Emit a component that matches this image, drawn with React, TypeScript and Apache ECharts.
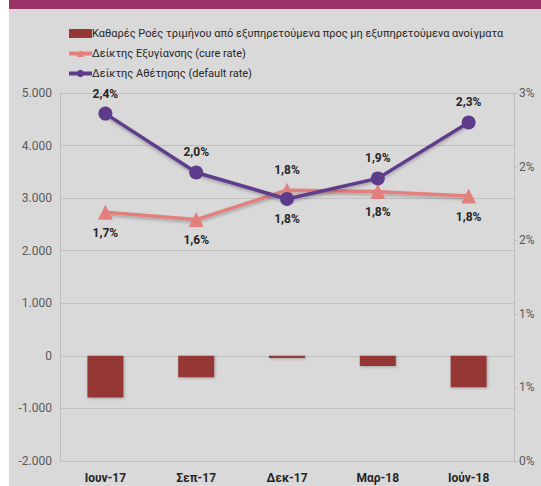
import React, { useEffect, useRef } from "react";
import * as echarts from "echarts";

const categories = ["Ιουν-17", "Σεπ-17", "Δεκ-17", "Μαρ-18", "Ιούν-18"];
const netFlows = [-790, -405, -40, -195, -595];
const cureRate = [1.69, 1.64, 1.84, 1.83, 1.8];
const defaultRate = [2.36, 1.96, 1.78, 1.92, 2.3];
const cureLabelPos = ["bottom", "bottom", "top", "bottom", "bottom"];
const defaultLabelPos = ["top", "top", "bottom", "top", "top"];

const seriesNames = [
  "Καθαρές Ροές τριμήνου από εξυπηρετούμενα προς μη εξυπηρετούμενα ανοίγματα",
  "Δείκτης Εξυγίανσης (cure rate)",
  "Δείκτης Αθέτησης (default rate)",
];

const FONT = "Roboto, 'Noto Sans', sans-serif";

function fmtThousands(v: number): string {
  const s = Math.abs(v).toString().replace(/\B(?=(\d{3})+(?!\d))/g, ".");
  return (v < 0 ? "-" : "") + s;
}

export default function App() {
  const ref = useRef<HTMLDivElement>(null);
  useEffect(() => {
    document.body.style.margin = "0";
    const chart = echarts.init(ref.current!, null, { renderer: "svg" });
    const labelStyle = {
      show: true,
      fontFamily: FONT,
      fontSize: 12,
      fontWeight: "bold" as const,
      color: "#262626",
      distance: 7,
      formatter: (p: any) => p.value.toFixed(1).replace(".", ",") + "%",
    };
    chart.setOption({
      animation: false,
      backgroundColor: "transparent",
      textStyle: { fontFamily: FONT },
      legend: {
        orient: "vertical",
        left: 62,
        top: 23,
        itemGap: 9,
        itemWidth: 23,
        itemHeight: 9,
        textStyle: { fontFamily: FONT, fontSize: 11, color: "#262626", padding: [0, 0, 0, -5] },
        data: [
          { name: seriesNames[0], icon: "rect" },
          { name: seriesNames[1], lineStyle: { width: 4 } },
          { name: seriesNames[2], lineStyle: { width: 4 } },
        ],
      },
      grid: { left: 60, right: 27, top: 93, bottom: 25, containLabel: false },
      xAxis: {
        type: "category",
        data: categories,
        axisLine: { show: false },
        axisTick: { show: false },
        axisLabel: {
          fontFamily: FONT,
          fontSize: 12,
          fontWeight: "bold",
          color: "#262626",
          margin: 11,
        },
      },
      yAxis: [
        {
          type: "value",
          min: -2000,
          max: 5000,
          interval: 1000,
          axisLine: { show: true, lineStyle: { color: "#bfbfbf" } },
          axisTick: { show: false },
          splitLine: { lineStyle: { color: "#bfbfbf", width: 1 } },
          axisLabel: {
            fontFamily: FONT,
            fontSize: 12,
            color: "#595959",
            margin: 8,
            formatter: (v: number) => fmtThousands(v),
          },
        },
        {
          type: "value",
          min: 0,
          max: 2.5,
          interval: 0.5,
          position: "right",
          axisLine: { show: true, lineStyle: { color: "#bfbfbf" } },
          axisTick: { show: true, length: 4, lineStyle: { color: "#bfbfbf" } },
          splitLine: { show: false },
          axisLabel: {
            fontFamily: FONT,
            fontSize: 12,
            color: "#595959",
            margin: 5,
            formatter: (v: number) => Math.round(v + 1e-9) + "%",
          },
        },
      ],
      series: [
        {
          name: seriesNames[0],
          type: "bar",
          yAxisIndex: 0,
          data: netFlows,
          barWidth: 36,
          itemStyle: {
            color: "#953735",
            shadowColor: "rgba(0,0,0,0.25)",
            shadowBlur: 3,
            shadowOffsetX: 1,
            shadowOffsetY: 1,
          },
        },
        {
          name: seriesNames[1],
          type: "line",
          yAxisIndex: 1,
          data: cureRate.map((v, i) => ({ value: v, label: { position: cureLabelPos[i] } })),
          symbol: "triangle",
          symbolSize: 15,
          lineStyle: {
            color: "#e3807e",
            width: 3.5,
            shadowColor: "rgba(0,0,0,0.25)",
            shadowBlur: 3,
            shadowOffsetY: 2,
          },
          itemStyle: { color: "#e3807e" },
          label: labelStyle,
          z: 3,
        },
        {
          name: seriesNames[2],
          type: "line",
          yAxisIndex: 1,
          data: defaultRate.map((v, i) => ({ value: v, label: { position: defaultLabelPos[i] } })),
          symbol: "circle",
          symbolSize: 14,
          lineStyle: {
            color: "#5e3c8c",
            width: 3.5,
            shadowColor: "rgba(0,0,0,0.25)",
            shadowBlur: 3,
            shadowOffsetY: 2,
          },
          itemStyle: { color: "#5e3c8c" },
          label: labelStyle,
          z: 4,
        },
      ],
    });
    return () => chart.dispose();
  }, []);
  return (
    <div style={{ position: "fixed", left: 0, top: 0, width: 541, height: 486, background: "#ffffff" }}>
      <div style={{ position: "absolute", left: 9, top: 0, width: 532, height: 486, background: "#d9d9d9" }} />
      <div style={{ position: "absolute", left: 9, top: 0, width: 532, height: 9, background: "#9a3366" }} />
      <div ref={ref} style={{ position: "absolute", left: 0, top: 0, width: 541, height: 486 }} />
    </div>
  );
}
